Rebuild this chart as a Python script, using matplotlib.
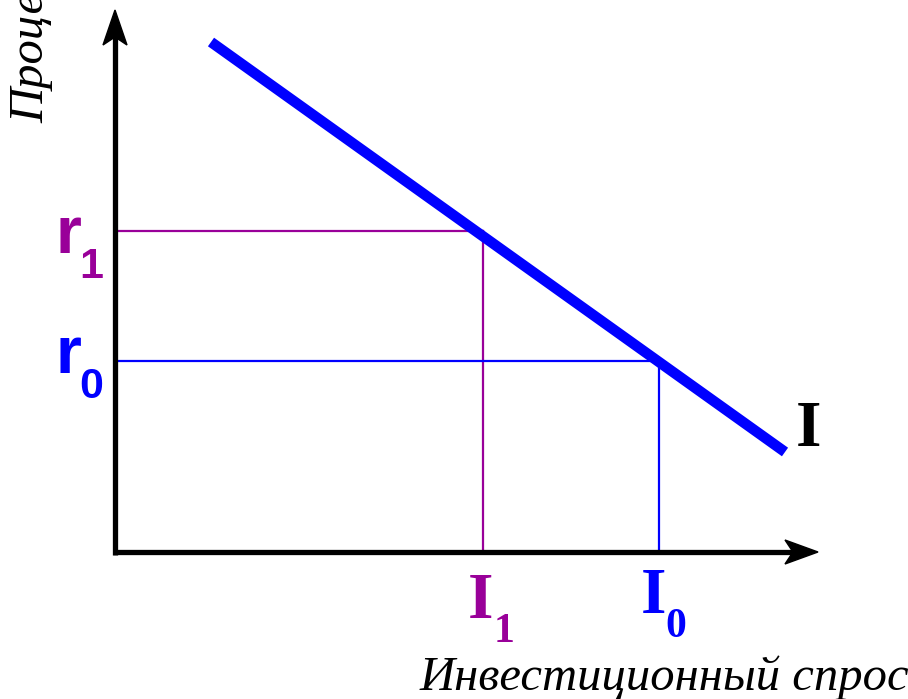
import matplotlib
matplotlib.use("Agg")
import matplotlib.pyplot as plt
from matplotlib.patches import Polygon

# ---- data (axis units: origin at the corner of the axes) ----
demand_x = [96, 670]      # investment demand line, x ends
demand_y = [510, 100]     # investment demand line, y ends
I1, r1 = 368, 321         # investment and rate at r1
I0, r0 = 544, 191         # investment and rate at r0

x_label = "Инвестиционный спрос"
y_label = "Процентная ставка"
curve_label = "I"

PURPLE = "#990099"
BLUE = "#0000ff"

fig = plt.figure(figsize=(9.08, 6.99), dpi=100)
ax = fig.add_axes([0, 0, 1, 1])
ax.set_xlim(-115, 793)
ax.set_ylim(-147, 552)
ax.axis("off")

# axes with arrows
ax.plot([0, 0], [-3, 522], color="black", lw=3.8, solid_capstyle="butt", zorder=3)
ax.plot([-2, 685], [0, 0], color="black", lw=3.8, solid_capstyle="butt", zorder=3)
ax.add_patch(Polygon([[0, 542], [-12, 507], [0, 515], [12, 507]], closed=True,
                     color="black", zorder=4))
ax.add_patch(Polygon([[703, 0], [670, 12], [678, 0], [670, -12]], closed=True,
                     color="black", zorder=4))

# guide lines
ax.plot([0, I1], [r1, r1], color=PURPLE, lw=1.6, zorder=2)
ax.plot([I1, I1], [r1, 0], color=PURPLE, lw=1.6, zorder=2)
ax.plot([0, I0], [r0, r0], color=BLUE, lw=1.6, zorder=2)
ax.plot([I0, I0], [r0, 0], color=BLUE, lw=1.6, zorder=2)

# demand line
ax.plot(demand_x, demand_y, color=BLUE, lw=7.6, solid_capstyle="butt", zorder=5)

sans_b = dict(family="Liberation Sans", weight="bold")
serif_b = dict(family="Liberation Serif", weight="bold")
serif_i = dict(family="Liberation Serif", style="italic")

# r labels
ax.text(-60, 299, "r", color=PURPLE, fontsize=48, ha="left", va="baseline", **sans_b)
ax.text(-36, 274, "1", color=PURPLE, fontsize=31, ha="left", va="baseline", **sans_b)
ax.text(-60, 179, "r", color=BLUE, fontsize=48, ha="left", va="baseline", **sans_b)
ax.text(-36, 154, "0", color=BLUE, fontsize=31, ha="left", va="baseline", **sans_b)

# I labels
ax.text(353, -66, "I", color=PURPLE, fontsize=47, ha="left", va="baseline", **serif_b)
ax.text(379, -90, "1", color=PURPLE, fontsize=30, ha="left", va="baseline", **serif_b)
ax.text(526, -61, "I", color=BLUE, fontsize=47, ha="left", va="baseline", **serif_b)
ax.text(550, -85, "0", color=BLUE, fontsize=30, ha="left", va="baseline", **serif_b)

ax.text(681, 106, curve_label, color="black", fontsize=47, ha="left", va="baseline", **serif_b)

# axis titles
ax.text(305, -138, x_label, color="black", fontsize=35, ha="left", va="baseline", **serif_i)
ax.text(-72, 429, y_label, color="black", fontsize=35, rotation=90,
        rotation_mode="anchor", ha="left", va="baseline", **serif_i)

fig.savefig("out.png", dpi=100)
